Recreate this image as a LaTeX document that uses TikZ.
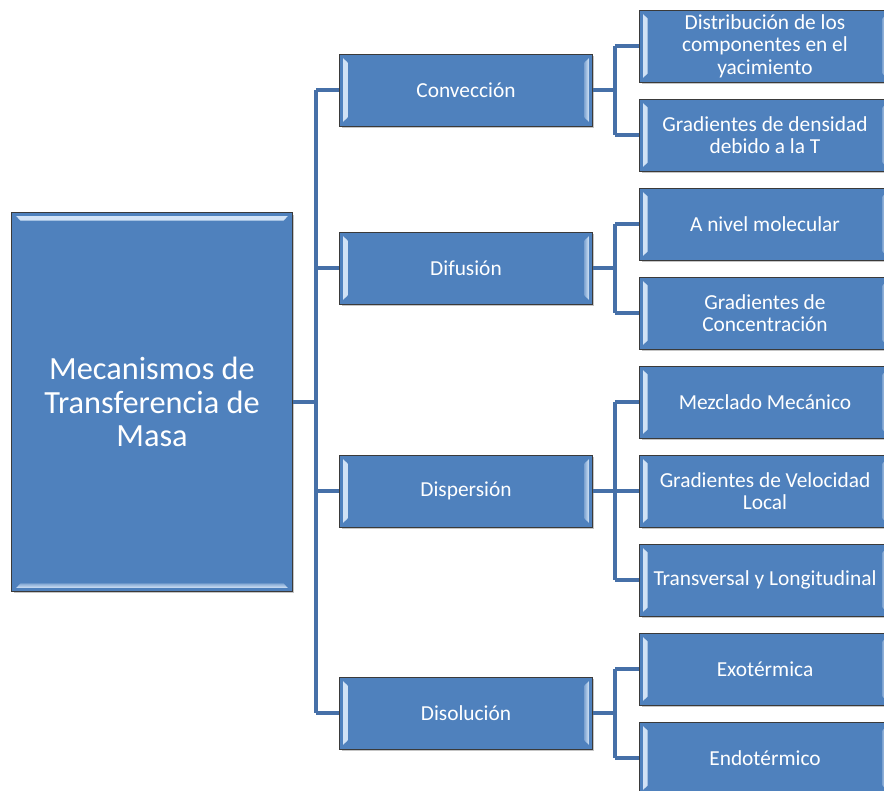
\documentclass[tikz,border=0pt]{standalone}
\usepackage{fontspec}
\setmainfont{Carlito}
\usetikzlibrary{calc, positioning, shadows}
\definecolor{boxBlue}{HTML}{4F81BD}
\definecolor{lineBlue}{HTML}{4670A8}
\definecolor{bevelBlue}{HTML}{D2E3F6}
\definecolor{edgeGray}{HTML}{3A3A3A}

\tikzset{
  base/.style = {draw = edgeGray, line width = 0.7pt, fill = boxBlue,
    text = white, align = center, inner sep = 0pt,
    drop shadow = {shadow xshift = 1.2pt, shadow yshift = -1.2pt, opacity = 0.45}},
  % light strips at the left and right inner edges
  bevelSides/.style = {path picture = {
    \shade[left color = bevelBlue, right color = boxBlue!60!bevelBlue]
      ($(path picture bounding box.north west) + (2.2pt, -3pt)$) --
      ($(path picture bounding box.north west) + (5.4pt, -6pt)$) --
      ($(path picture bounding box.south west) + (5.4pt, 6pt)$) --
      ($(path picture bounding box.south west) + (2.2pt, 3pt)$) -- cycle;
    \shade[left color = boxBlue!60!bevelBlue, right color = bevelBlue]
      ($(path picture bounding box.north east) + (-2.2pt, -3pt)$) --
      ($(path picture bounding box.north east) + (-5.4pt, -6pt)$) --
      ($(path picture bounding box.south east) + (-5.4pt, 6pt)$) --
      ($(path picture bounding box.south east) + (-2.2pt, 3pt)$) -- cycle;
  }},
  % light strips at the top and bottom inner edges
  bevelEnds/.style = {path picture = {
    \shade[top color = bevelBlue, bottom color = boxBlue!60!bevelBlue]
      ($(path picture bounding box.north west) + (3pt, -2.2pt)$) --
      ($(path picture bounding box.north east) + (-3pt, -2.2pt)$) --
      ($(path picture bounding box.north east) + (-6pt, -5.4pt)$) --
      ($(path picture bounding box.north west) + (6pt, -5.4pt)$) -- cycle;
    \shade[top color = boxBlue!60!bevelBlue, bottom color = bevelBlue]
      ($(path picture bounding box.south west) + (3pt, 2.2pt)$) --
      ($(path picture bounding box.south east) + (-3pt, 2.2pt)$) --
      ($(path picture bounding box.south east) + (-6pt, 5.4pt)$) --
      ($(path picture bounding box.south west) + (6pt, 5.4pt)$) -- cycle;
  }},
  rootBox/.style = {base, bevelEnds, minimum width = 7.0cm, minimum height = 9.45cm,
    font = \fontsize{23}{24}\selectfont},
  midBox/.style = {base, bevelSides, minimum width = 6.3cm, minimum height = 1.8cm,
    font = \fontsize{15.2}{16}\selectfont},
  leafBox/.style = {base, bevelSides, minimum width = 6.25cm, minimum height = 1.8cm,
    font = \fontsize{15.2}{16}\selectfont},
  link/.style = {draw = lineBlue, line width = 2.4pt},
}

\begin{document}
\begin{tikzpicture}[x = 0.025cm, y = -0.025cm]
  \useasboundingbox[fill = white] (0, 0) rectangle (884, 791);

  % ------------------------
  % connectors
  % ------------------------

  \coordinate (J0) at (316, 402);
  \coordinate (J1) at (615, 90);
  \coordinate (J2) at (615, 268);
  \coordinate (J3) at (615, 491);
  \coordinate (J4) at (615, 713);

  % ------------------------
  % boxes
  % ------------------------

  \node[rootBox] (R) at (152, 402) {Mecanismos de\\Transferencia de\\Masa};

  \node[midBox] (M1) at (466, 90) {Convección};
  \node[midBox] (M2) at (466, 268) {Difusión};
  \node[midBox] (M3) at (466, 491) {Dispersión};
  \node[midBox] (M4) at (466, 713) {Disolución};

  \node[leafBox] (L1) at (765, 46) {Distribución de los\\componentes en el\\yacimiento};
  \node[leafBox] (L2) at (765, 135) {Gradientes de densidad\\debido a la T};
  \node[leafBox] (L3) at (765, 224) {A nivel molecular};
  \node[leafBox] (L4) at (765, 313) {Gradientes de\\Concentración};
  \node[leafBox] (L5) at (765, 402) {Mezclado Mecánico};
  \node[leafBox] (L6) at (765, 491) {Gradientes de Velocidad\\Local};
  \node[leafBox] (L7) at (765, 580) {Transversal y Longitudinal};
  \node[leafBox] (L8) at (765, 669) {Exotérmica};
  \node[leafBox] (L9) at (765, 758) {Endotérmico};

  \draw[link] (R.east) -- (J0);
  \draw[link] (J0 |- M1.west) -- (J0 |- M4.west);
  \foreach \m in {M1, M2, M3, M4}
    \draw[link] (J0 |- \m.west) -- (\m.west);

  \draw[link] (M1.east) -- (J1);
  \draw[link] (J1 |- L1.west) -- (J1 |- L2.west);
  \foreach \l in {L1, L2}
    \draw[link] (J1 |- \l.west) -- (\l.west);

  \draw[link] (M2.east) -- (J2);
  \draw[link] (J2 |- L3.west) -- (J2 |- L4.west);
  \foreach \l in {L3, L4}
    \draw[link] (J2 |- \l.west) -- (\l.west);

  \draw[link] (M3.east) -- (J3);
  \draw[link] (J3 |- L5.west) -- (J3 |- L7.west);
  \foreach \l in {L5, L6, L7}
    \draw[link] (J3 |- \l.west) -- (\l.west);

  \draw[link] (M4.east) -- (J4);
  \draw[link] (J4 |- L8.west) -- (J4 |- L9.west);
  \foreach \l in {L8, L9}
    \draw[link] (J4 |- \l.west) -- (\l.west);
\end{tikzpicture}
\end{document}
